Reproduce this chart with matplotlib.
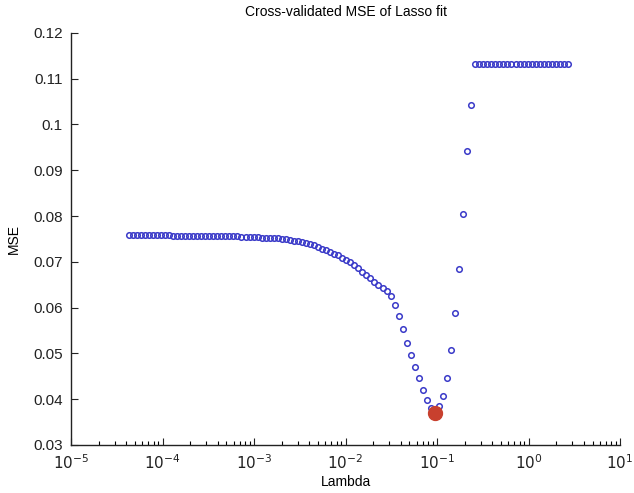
import numpy as np
import matplotlib
matplotlib.use("Agg")
import matplotlib.pyplot as plt
from matplotlib.ticker import FixedLocator, FixedFormatter, NullFormatter

plt.rcParams['font.family'] = ['Liberation Sans', 'DejaVu Sans']

# lambda grid of the lasso fit (geometric: ~4.3e-5 .. ~2.7)
lam = np.logspace(-4.37, 0.43, 110)

# cross-validated MSE per lambda
mse = [
    0.0758, 0.0758, 0.0758, 0.0758, 0.0758, 0.0758, 0.0758, 0.0758, 0.0758, 0.0758,
    0.0758, 0.0757, 0.0757, 0.0757, 0.0757, 0.0757, 0.0757, 0.0757, 0.0757, 0.0757,
    0.0757, 0.0757, 0.0757, 0.0757, 0.0756, 0.0756, 0.0756, 0.0756, 0.0755, 0.0755,
    0.0755, 0.0754, 0.0754, 0.0753, 0.0753, 0.0752, 0.0751, 0.0751, 0.0750, 0.0749,
    0.0748, 0.0746, 0.0745, 0.0743, 0.0741, 0.0739, 0.0736, 0.0733, 0.0729, 0.0726,
    0.0721, 0.0718, 0.0714, 0.0709, 0.0704, 0.0699, 0.0692, 0.0686, 0.0678, 0.0671,
    0.0664, 0.0655, 0.0649, 0.0643, 0.0636, 0.0625, 0.0606, 0.0581, 0.0553, 0.0523,
    0.0496, 0.0471, 0.0446, 0.0421, 0.0399, 0.0381, 0.0370, 0.0385, 0.0407, 0.0447,
    0.0507, 0.0588, 0.0685, 0.0804, 0.0943, 0.1042, 0.1133, 0.1133, 0.1133, 0.1133,
    0.1133, 0.1133, 0.1133, 0.1133, 0.1133, 0.1133, 0.1133, 0.1133, 0.1133, 0.1133,
    0.1133, 0.1133, 0.1133, 0.1133, 0.1133, 0.1133, 0.1133, 0.1133, 0.1133, 0.1133,
]
best = 76  # index of minimum MSE (red dot)

xticks = [1e-5, 1e-4, 1e-3, 1e-2, 1e-1, 1e0, 1e1]
xlabels = [r'$10^{-5}$', r'$10^{-4}$', r'$10^{-3}$', r'$10^{-2}$', r'$10^{-1}$',
           r'$10^{0}$', r'$10^{1}$']
yticks = [0.03, 0.04, 0.05, 0.06, 0.07, 0.08, 0.09, 0.10, 0.11, 0.12]
ylabels = ['0.03', '0.04', '0.05', '0.06', '0.07', '0.08', '0.09', '0.1', '0.11', '0.12']

fig = plt.figure(figsize=(6.34, 4.93), dpi=100)
ax = fig.add_axes([0.112, 0.0974, 0.866, 0.836])

ax.semilogx(lam, mse, 'o', mfc='none', mec='#3a3ac8', ms=4, mew=1.1)
ax.plot(lam[best], mse[best], 'o', color='#c8402e', ms=10)

ax.set_xlim(1e-5, 1e1)
ax.set_ylim(0.03, 0.12)
ax.yaxis.set_major_locator(FixedLocator(yticks))
ax.yaxis.set_major_formatter(FixedFormatter(ylabels))
ax.xaxis.set_major_locator(FixedLocator(xticks))
ax.xaxis.set_major_formatter(FixedFormatter(xlabels))
minors = [m * d for d in xticks[:-1] for m in range(2, 10)]
ax.xaxis.set_minor_locator(FixedLocator(minors))
ax.xaxis.set_minor_formatter(NullFormatter())

for s in ['top', 'right']:
    ax.spines[s].set_visible(False)
for s in ['left', 'bottom']:
    ax.spines[s].set_linewidth(1.0)
    ax.spines[s].set_color('#222222')

ax.tick_params(which='major', direction='in', length=5, width=0.8, labelsize=11,
               colors='#222222', pad=6)
ax.tick_params(which='minor', direction='in', length=3, width=0.8)
ax.tick_params(axis='y', pad=6)

ax.set_title('Cross-validated MSE of Lasso fit', fontsize=10, pad=12)
ax.set_xlabel('Lambda', fontsize=10, labelpad=2)
ax.set_ylabel('MSE', fontsize=10, labelpad=9)

fig.savefig('out.png', dpi=100)
